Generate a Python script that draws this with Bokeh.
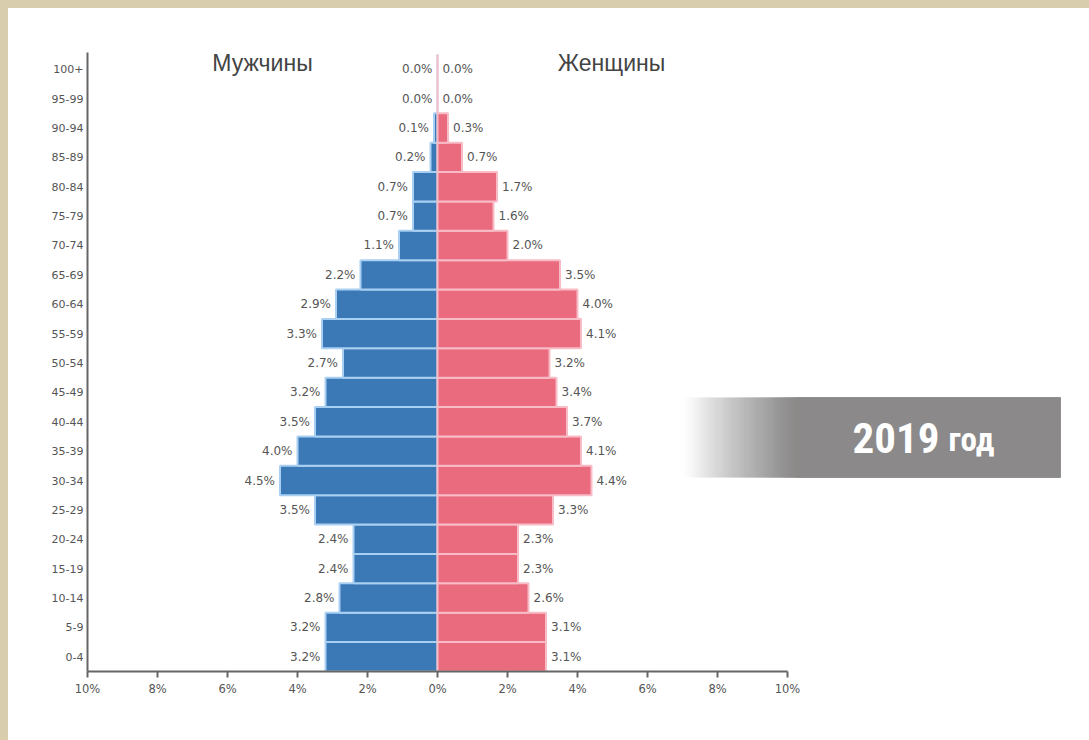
from bokeh.plotting import figure
from bokeh.models import Range1d, FixedTicker, ColumnDataSource
from bokeh.layouts import column
from bokeh.core.properties import value
from bokeh.embed import file_html
from bokeh.resources import INLINE
import numpy as np

# ---- data (bottom to top) ----
age_groups = ["0-4", "5-9", "10-14", "15-19", "20-24", "25-29", "30-34", "35-39",
              "40-44", "45-49", "50-54", "55-59", "60-64", "65-69", "70-74",
              "75-79", "80-84", "85-89", "90-94", "95-99", "100+"]
male = [3.2, 3.2, 2.8, 2.4, 2.4, 3.5, 4.5, 4.0, 3.5, 3.2, 2.7, 3.3, 2.9, 2.2,
        1.1, 0.7, 0.7, 0.2, 0.1, 0.0, 0.0]
female = [3.1, 3.1, 2.6, 2.3, 2.3, 3.3, 4.4, 4.1, 3.7, 3.4, 3.2, 4.1, 4.0, 3.5,
          2.0, 1.6, 1.7, 0.7, 0.3, 0.0, 0.0]
x_ticks = [-10, -8, -6, -4, -2, 0, 2, 4, 6, 8, 10]
title_male = "Мужчины"
title_female = "Женщины"
banner_year = "2019"
banner_word = "год"

BLUE = "#3b78b6"
BLUE_LIGHT = "#a9d0f2"
PINK = "#ea6a7e"
PINK_LIGHT = "#f8bcc6"
TEXT = "#555555"
GRAY = "#8b8989"
BEIGE = "#d8ceae"
COND = "'Noto Sans Condensed', 'Roboto Condensed', 'Open Sans Condensed', 'DejaVu Sans Condensed', 'Liberation Sans Narrow', 'Liberation Sans', sans-serif"

idx = list(range(len(age_groups)))
src = ColumnDataSource(dict(
    y=idx,
    mleft=[-v for v in male],
    zero=[0] * len(idx),
    fright=female,
    mlab=[f"{v:.1f}%" for v in male],
    flab=[f"{v:.1f}%" for v in female],
))

W, H = 1081, 732
px_per_pct = 35.0
row_px = 29.38
left_border = 79
bottom_border = 69
frame_w = W - left_border
frame_h = H - bottom_border

x0 = -10
x1 = x0 + frame_w / px_per_pct
y0 = -0.5
y1 = y0 + frame_h / row_px


def page_x(px):
    return x0 + (px - 87) / px_per_pct


def page_y(py):
    return y0 + (671 - py) / row_px


p = figure(width=W, height=H, output_backend="svg", toolbar_location=None,
           x_range=Range1d(x0, x1), y_range=Range1d(y0, y1),
           min_border_left=left_border, min_border_bottom=bottom_border,
           min_border_top=0, min_border_right=0)
p.margin = (8, 0, 0, 8)
p.background_fill_color = None
p.border_fill_color = None
p.outline_line_color = None
p.xgrid.visible = False
p.ygrid.visible = False

# bars
p.hbar(y="y", left="mleft", right="zero", height=1.0, source=src,
       fill_color=BLUE, line_color=BLUE_LIGHT, line_width=2)
p.hbar(y="y", left="zero", right="fright", height=1.0, source=src,
       fill_color=PINK, line_color=PINK_LIGHT, line_width=2)

# value labels
p.text(x="mleft", y="y", text="mlab", source=src, x_offset=-5,
       text_align="right", text_baseline="middle", text_font_size="12px",
       text_color=TEXT, text_font=value("DejaVu Sans"))
p.text(x="fright", y="y", text="flab", source=src, x_offset=5,
       text_align="left", text_baseline="middle", text_font_size="12px",
       text_color=TEXT, text_font=value("DejaVu Sans"))

# titles
title_y = page_y(62)
p.text(x=[page_x(262), page_x(611)], y=[title_y, title_y],
       text=[title_male, title_female],
       text_align="center", text_baseline="middle", text_font_size="23px",
       text_color="#444444", text_font=value("Liberation Sans"))

# banner (decorative)
b_left, b_right = page_x(683), page_x(1060)
b_bottom, b_top = page_y(477), page_y(397)
grad_end = page_x(800)
n = 50
edges = np.linspace(b_left, grad_end, n + 1)[:-1]
target = np.linspace(1.0 / n, 1.0, n) ** 1.0
alphas = []
prev = 0.0
for t in target:
    a = 1 - (1 - t) / (1 - prev) if prev < 1 else 1.0
    alphas.append(float(min(max(a, 0.0), 1.0)))
    prev = t
p.quad(left=edges.tolist(), right=[b_right] * n,
       bottom=[b_bottom] * n, top=[b_top] * n,
       fill_color=GRAY, fill_alpha=alphas, line_color=None)
ty = (b_bottom + b_top) / 2
p.text(x=[page_x(852)], y=[ty], text=[banner_year],
       text_align="left", text_baseline="middle", text_font_size="43px",
       text_font_style="bold", text_color="white", text_font=value(COND))
p.text(x=[page_x(948)], y=[ty], text=[banner_word], y_offset=2,
       text_align="left", text_baseline="middle", text_font_size="33px",
       text_font_style="bold", text_color="white", text_font=value(COND))

# axes
xa = p.xaxis[0]
xa.ticker = FixedTicker(ticks=x_ticks)
xa.major_label_overrides = {t: f"{abs(t)}%" for t in x_ticks}
xa.bounds = (-10, 10)
xa.axis_line_color = "#666666"
xa.axis_line_width = 2
xa.major_tick_line_color = "#666666"
xa.major_tick_line_width = 2
xa.major_tick_in = 0
xa.major_tick_out = 6
xa.minor_tick_out = 0
xa.minor_tick_in = 0
xa.major_label_standoff = 4
xa.major_label_text_font = "DejaVu Sans"
xa.major_label_text_font_size = "11.5px"
xa.major_label_text_color = TEXT

ya = p.yaxis[0]
ya.ticker = FixedTicker(ticks=idx)
ya.major_label_overrides = {i: g for i, g in zip(idx, age_groups)}
ya.bounds = (-0.5, 20.57)
ya.axis_line_color = "#666666"
ya.axis_line_width = 2
ya.major_tick_in = 0
ya.major_tick_out = 0
ya.minor_tick_out = 0
ya.minor_tick_in = 0
ya.major_label_standoff = 4
ya.major_label_text_font = "DejaVu Sans"
ya.major_label_text_font_size = "11px"
ya.major_label_text_color = TEXT

root = column(p, width=1089, height=740,
              styles={"background-color": "white",
                      "box-shadow": f"inset 8px 8px 0 0 {BEIGE}"})

open("out.html", "w").write(file_html(root, INLINE))
